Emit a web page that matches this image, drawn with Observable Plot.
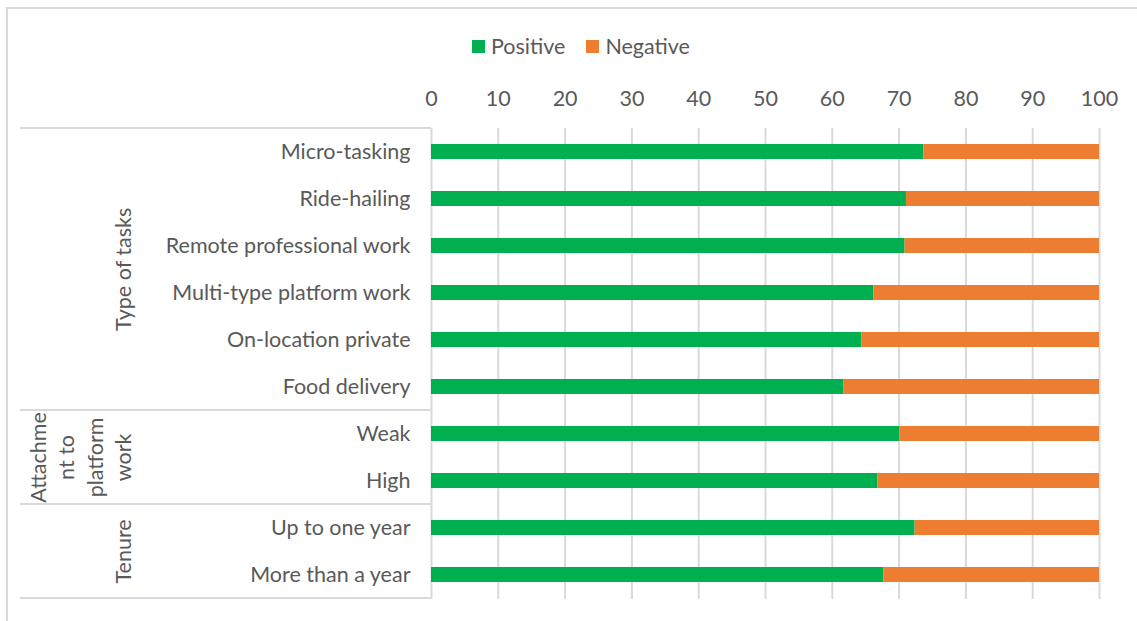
<!DOCTYPE html>
<html>
<head>
<meta charset="utf-8">
<script src="https://cdn.jsdelivr.net/npm/d3@7"></script>
<script src="https://cdn.jsdelivr.net/npm/@observablehq/plot@0.6"></script>
<style>
  html, body { margin: 0; padding: 0; background: #fff; }
  body { width: 1137px; height: 621px; overflow: hidden; position: relative; font-family: Lato, "Open Sans", sans-serif; }
  #border { position: absolute; left: 6px; top: 7px; width: 1200px; height: 700px; border-left: 2px solid #d9d9d9; border-top: 2px solid #d9d9d9; }
  #legend { position: absolute; left: 472px; top: 33px; height: 26px; display: flex; align-items: center; font-size: 21.5px; color: #595959; }
  #legend .sw { width: 13px; height: 13px; display: inline-block; margin-right: 6px; }
  #legend .item { display: flex; align-items: center; margin-right: 21px; }
  #chart { position: absolute; left: 0; top: 70px; }
</style>
</head>
<body>
<div id="border"></div>
<div id="legend"></div>
<div id="chart"></div>
<script>
// ---- data ----
const categories = [
  "Micro-tasking",
  "Ride-hailing",
  "Remote professional work",
  "Multi-type platform work",
  "On-location private",
  "Food delivery",
  "Weak",
  "High",
  "Up to one year",
  "More than a year"
];
const positive = [73.7, 71.1, 70.9, 66.2, 64.4, 61.7, 70.1, 66.8, 72.4, 67.7];
const negative = [26.3, 28.9, 29.1, 33.8, 35.6, 38.3, 29.9, 33.2, 27.6, 32.3];
const seriesNames = ["Positive", "Negative"];
const seriesColors = ["#00B050", "#ED7D31"];
const xTicks = [0, 10, 20, 30, 40, 50, 60, 70, 80, 90, 100];
// groups: label, first category, last category
const groupLabels = ["Type of tasks", "Attachme\nnt to\nplatform\nwork", "Tenure"];
const groupFirst = ["Micro-tasking", "Weak", "Up to one year"];
const groupLast = ["Food delivery", "High", "More than a year"];

// ---- table for Plot ----
const table = [];
categories.forEach((c, i) => {
  table.push({category: c, series: "Positive", value: positive[i]});
  table.push({category: c, series: "Negative", value: negative[i]});
});

// ---- legend ----
const legend = document.getElementById("legend");
seriesNames.forEach((s, i) => {
  const it = document.createElement("span");
  it.className = "item";
  it.innerHTML = `<span class="sw" style="background:${seriesColors[i]}"></span><span>${s}</span>`;
  legend.appendChild(it);
});

const W = 1137, H = 551, mT = 58, mB = 22, mL = 431, mR = 38;
const step = (H - mT - mB) / categories.length;
const font = "Lato, 'Open Sans', sans-serif";
const textColor = "#595959";
const fs = 21.5;

const groupData = groupLabels.map((g, i) => {
  const a = categories.indexOf(groupFirst[i]), b = categories.indexOf(groupLast[i]);
  return {label: g, a, b};
});

function groupMark(d, dx) {
  const n = d.b - d.a + 1;
  const midIdx = d.a + Math.floor(n / 2);
  const even = n % 2 === 0;
  return Plot.text([d], {
    text: "label",
    y: () => categories[midIdx],
    frameAnchor: "left",
    rotate: -90,
    dx,
    dy: even ? -step / 2 : 0,
    fontSize: fs,
    fill: textColor,
    lineHeight: 1.32,
    textAnchor: "middle",
    lineAnchor: "middle"
  });
}

const plot = Plot.plot({
  width: W,
  height: H,
  marginTop: mT,
  marginBottom: mB,
  marginLeft: mL,
  marginRight: mR,
  style: {fontFamily: font, background: "transparent", overflow: "visible"},
  x: {domain: [0, 100], axis: null},
  y: {domain: categories, paddingInner: 0.68, paddingOuter: 0.34, axis: null},
  color: {domain: seriesNames, range: seriesColors},
  marks: [
    Plot.gridX(xTicks, {stroke: "#d9d9d9", strokeOpacity: 1, strokeWidth: 2}),
    Plot.barX(table, {x: "value", y: "category", fill: "series", order: seriesNames}),
    Plot.axisX(xTicks, {anchor: "top", label: null, tickSize: 0, tickPadding: 23, fontSize: fs, fill: textColor, tickFormat: d => String(d)}),
    Plot.axisY({label: null, tickSize: 0, tickPadding: 21, fontSize: fs, fill: textColor}),
    groupMark(groupData[0], -310),
    groupMark(groupData[1], -352),
    groupMark(groupData[2], -310)
  ]
});
document.getElementById("chart").appendChild(plot);

// ---- separators in the category area, placed from the y scale ----
const ys = plot.scale("y");
const bw = ys.bandwidth;
const gap = (step - bw) / 2;
const bounds = [];
groupData.forEach(d => {
  bounds.push(ys.apply(categories[d.a]) - gap);
});
bounds.push(ys.apply(categories[groupData[groupData.length - 1].b]) + bw + gap);
const svg = d3.select(plot);
svg.append("g").selectAll("line").data(bounds).join("line")
  .attr("x1", 20).attr("x2", mL)
  .attr("y1", d => d).attr("y2", d => d)
  .attr("stroke", "#d9d9d9").attr("stroke-width", 2);
</script>
</body>
</html>
